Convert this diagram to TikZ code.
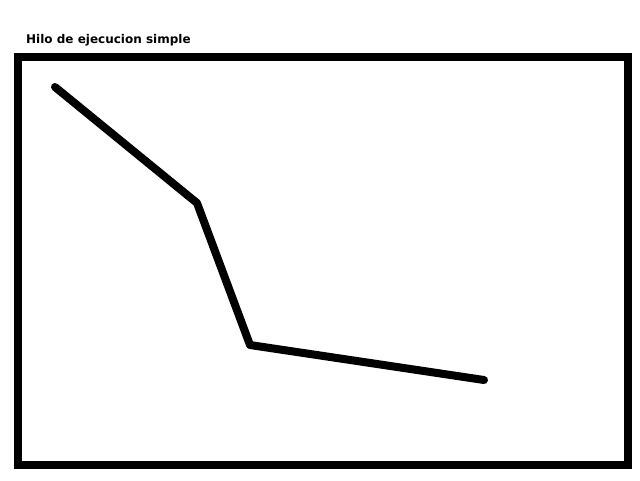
\documentclass[tikz,border=0pt]{standalone}
\usepackage{fontspec}
\setmainfont{DejaVu Sans}
\begin{document}
\begin{tikzpicture}[x=1pt,y=-1pt,
  frame/.style={line width=8pt, line join=miter},
  pathline/.style={line width=8pt, line cap=round, line join=round},
  title/.style={font=\bfseries\fontsize{12}{14}\selectfont, anchor=base west, inner sep=0pt}]
\useasboundingbox (0,0) rectangle (640,480);
\node[title] (t) at (26,43) {Hilo de ejecucion simple};
\draw[frame] (18,56.5) rectangle (628,465);
\coordinate (p1) at (55,87);
\coordinate (p2) at (197,203);
\coordinate (p3) at (250,345);
\coordinate (p4) at (484,380);
\draw[pathline] (p1) -- (p2) -- (p3) -- (p4);
\end{tikzpicture}
\end{document}
